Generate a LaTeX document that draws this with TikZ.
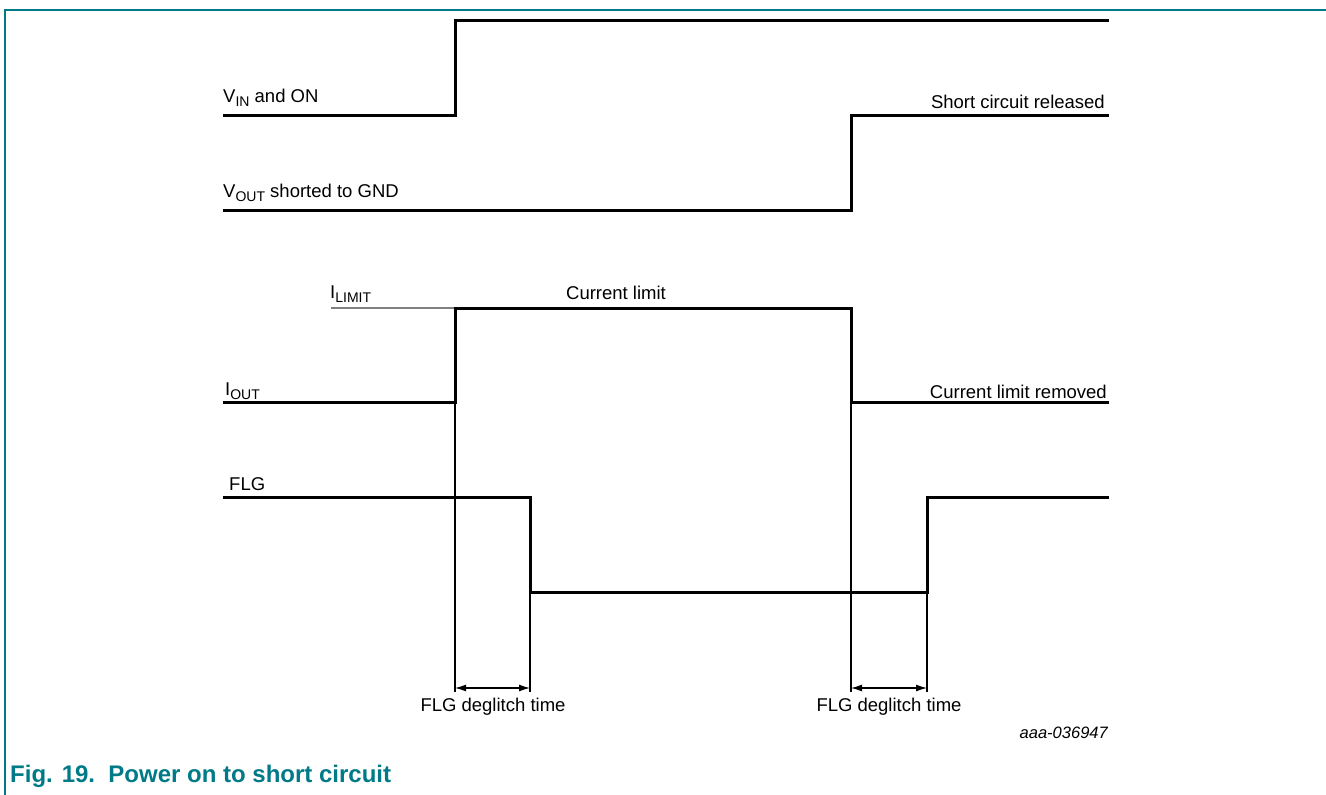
\documentclass[tikz,border=0pt]{standalone}
\usepackage{fontspec}
\setmainfont{Liberation Sans}
\usetikzlibrary{arrows.meta}
\definecolor{nxpteal}{RGB}{0,122,135}
\newcommand{\mysub}[1]{\raisebox{-4.8pt}{\fontsize{14}{14}\selectfont #1}}
\begin{document}
\begin{tikzpicture}[x=1pt,y=-1pt,
  sig/.style={line width=3pt,line join=miter,line cap=butt},
  guide/.style={line width=1.1pt,black},
  limline/.style={line width=1.4pt,black!50},
  dim/.style={line width=1.2pt,{Latex[length=11pt,width=7pt]}-{Latex[length=11pt,width=7pt]}},
  lbl/.style={inner sep=0pt,font=\fontsize{18.5}{21}\selectfont},
  frame/.style={line width=1.5pt,nxpteal}]
\useasboundingbox (0,0) rectangle (1326,795);
% frame
\draw[frame] (5,795) -- (5,10) -- (1326,10);
% timing coordinates
\coordinate (t1a) at (455,402);
\coordinate (t1b) at (530,592);
\coordinate (t2a) at (851,402);
\coordinate (t2b) at (927,592);
\coordinate (d1a) at (455,692);
\coordinate (d1b) at (530,692);
\coordinate (d2a) at (851,692);
\coordinate (d2b) at (927,692);
% guide lines
\draw[guide] (t1a) -- (d1a);
\draw[guide] (t1b) -- (d1b);
\draw[guide] (t2a) -- (d2a);
\draw[guide] (t2b) -- (d2b);
% I_LIMIT level
\draw[limline] (331,308) -- (455,308);
% signals
\draw[sig] (223,115) -- (455,115) -- (455,20) -- (1109,20);
\draw[sig] (223,210) -- (851,210) -- (851,115) -- (1109,115);
\draw[sig] (223,402) -- (455,402) -- (455,308) -- (851,308) -- (851,402) -- (1109,402);
\draw[sig] (223,497) -- (530,497) -- (530,592) -- (927,592) -- (927,497) -- (1109,497);
% dimension arrows
\coordinate (a1a) at (455,688);
\coordinate (a1b) at (530,688);
\coordinate (a2a) at (851,688);
\coordinate (a2b) at (927,688);
\draw[dim] (a1a) -- (a1b);
\draw[dim] (a2a) -- (a2b);
% labels
\node[lbl,anchor=base west] (vin) at (223,102) {V\mysub{IN} and ON};
\node[lbl,anchor=base west] (vout) at (223,197) {V\mysub{OUT} shorted to GND};
\node[lbl,anchor=base east] (scr) at (1105,108) {Short circuit released};
\node[lbl,anchor=base west] (ilim) at (330,298) {I\mysub{LIMIT}};
\node[lbl,anchor=base] (cl) at (616,299) {Current limit};
\node[lbl,anchor=base west] (iout) at (225,395) {I\mysub{OUT}};
\node[lbl,anchor=base east] (clr) at (1107,398) {Current limit removed};
\node[lbl,anchor=base west] (flg) at (229,490) {FLG};
\node[lbl,anchor=base] (dg1) at (493,711) {FLG deglitch time};
\node[lbl,anchor=base] (dg2) at (889,711) {FLG deglitch time};
\node[inner sep=0pt,anchor=base east,font=\fontsize{16.5}{18}\selectfont\itshape] (code) at (1108,738) {aaa-036947};
\node[inner sep=0pt,anchor=base west,text=nxpteal,font=\fontsize{24}{27}\selectfont\bfseries] (cap) at (10,782) {Fig. 19.\ \ Power on to short circuit};
\end{tikzpicture}
\end{document}
